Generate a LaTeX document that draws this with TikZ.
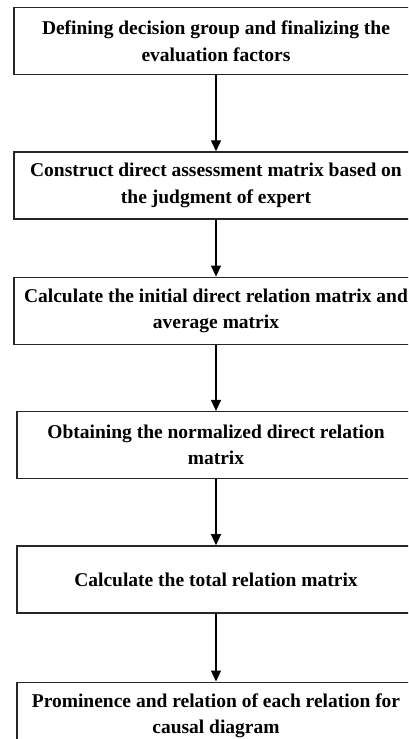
\documentclass[tikz,border=0pt]{standalone}
\usepackage{fontspec}
\setmainfont{Liberation Serif}
\usetikzlibrary{arrows.meta}
\usetikzlibrary{positioning}

\tikzset{
  stepbox/.style={rectangle, draw=black!85, line width=1.3pt, minimum width=404pt,
    minimum height=67pt, inner sep=0pt, align=center,
    font=\bfseries\fontsize{19.5}{26.5}\selectfont},
  flow/.style={-{Triangle[width=10pt,length=11pt]}, line width=1.1pt},
}

\begin{document}
\begin{tikzpicture}
    \clip (0,0) rectangle (408pt,-739pt);

    \node (define) [stepbox, anchor=north] at (216pt,-7pt)
      {Defining decision group and finalizing the\\evaluation factors};
    \node (assess) [stepbox, below=76pt of define]
      {Construct direct assessment matrix based on\\the judgment of expert};
    \node (initial) [stepbox, below=57pt of assess]
      {Calculate the initial direct relation matrix and\\average matrix};
    \node (normal) [stepbox, minimum width=398pt, below=66pt of initial]
      {Obtaining the normalized direct relation\\matrix};
    \node (total) [stepbox, minimum width=398pt, below=66pt of normal]
      {Calculate the total relation matrix};
    \node (causal) [stepbox, minimum width=398pt, below=68pt of total]
      {Prominence and relation of each relation for\\causal diagram};

    % one arrow between each pair of steps
    \draw[flow] (define) -- (assess);
    \draw[flow] (assess) -- (initial);
    \draw[flow] (initial) -- (normal);
    \draw[flow] (normal) -- (total);
    \draw[flow] (total) -- (causal);
\end{tikzpicture}
\end{document}
